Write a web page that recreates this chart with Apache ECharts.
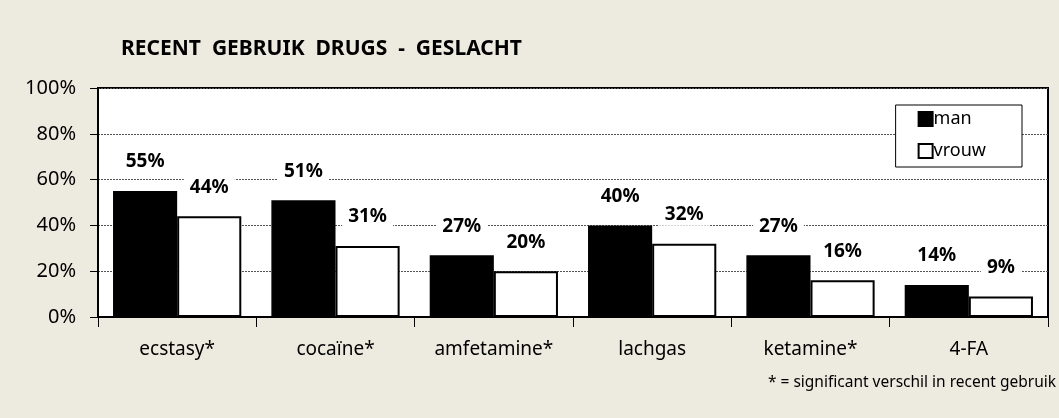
<!DOCTYPE html>
<html><head><meta charset="utf-8">
<script src="https://cdn.jsdelivr.net/npm/echarts@6/dist/echarts.min.js"></script>
<style>html,body{margin:0;padding:0;background:#EDEBE0;}#c{width:1059px;height:418px;}</style>
</head><body><div id="c"></div>
<script>
const categories = ['ecstasy*', 'cocaïne*', 'amfetamine*', 'lachgas', 'ketamine*', '4-FA'];
const man = [55, 51, 27, 40, 27, 14];
const vrouw = [44, 31, 20, 32, 16, 9];
const yTicks = [0, 20, 40, 60, 80, 100];
const FONT = '"Noto Sans", "Open Sans", sans-serif';

const chart = echarts.init(document.getElementById('c'));
const labelCfg = {
  show: true, position: 'top', distance: 18,
  formatter: p => p.value + '%',
  fontFamily: FONT, fontWeight: 'bold', fontSize: 19, lineHeight: 22, color: '#000',
  backgroundColor: '#fff', padding: [0, 6]
};
chart.setOption({
  backgroundColor: '#EDEBE0',
  animation: false,
  textStyle: { fontFamily: FONT },
  title: {
    text: 'RECENT  GEBRUIK  DRUGS  -  GESLACHT',
    left: 116, top: 34,
    textStyle: { fontFamily: FONT, fontWeight: 'bold', fontSize: 21, color: '#000' }
  },
  legend: {
    orient: 'vertical', right: 37, top: 105,
    width: 124,
    backgroundColor: '#fff', borderColor: '#000', borderWidth: 1,
    padding: [5, 36, 7, 22], itemGap: 14,
    itemWidth: 14, itemHeight: 14, icon: 'rect',
    textStyle: { fontFamily: FONT, fontSize: 18, color: '#000', padding: [0, 0, 0, -4] },
    data: ['man', 'vrouw']
  },
  grid: {
    left: 98, right: 11, top: 88, bottom: 101,
    show: true, backgroundColor: '#fff', borderColor: '#000', borderWidth: 2
  },
  xAxis: {
    type: 'category', data: categories,
    axisLine: { lineStyle: { color: '#000', width: 2 } },
    axisTick: { show: true, length: 10, lineStyle: { color: '#000', width: 1 } },
    axisLabel: { fontFamily: FONT, fontSize: 19, color: '#000', margin: 23 }
  },
  yAxis: {
    type: 'value', min: 0, max: 100, interval: 20,
    axisLine: { show: true, lineStyle: { color: '#000', width: 2 } },
    axisTick: { show: true, length: 8, lineStyle: { color: '#000' } },
    axisLabel: { fontFamily: FONT, fontSize: 20, color: '#000', margin: 22,
      formatter: v => yTicks.includes(v) ? v + '%' : '' },
    splitLine: { show: true, lineStyle: { color: '#555', type: [2, 1], width: 1 } }
  },
  series: [
    { name: 'man', type: 'bar', data: man, barGap: '0%', barCategoryGap: '19%',
      itemStyle: { color: '#000', borderColor: '#000', borderWidth: 1.5 },
      label: labelCfg },
    { name: 'vrouw', type: 'bar', data: vrouw,
      itemStyle: { color: '#fff', borderColor: '#000', borderWidth: 2 },
      label: labelCfg }
  ],
  graphic: [{
    type: 'text', right: 3, top: 375,
    style: { text: '* = significant verschil in recent gebruik', font: '15.5px ' + FONT, fill: '#000' }
  }]
});
</script></body></html>
